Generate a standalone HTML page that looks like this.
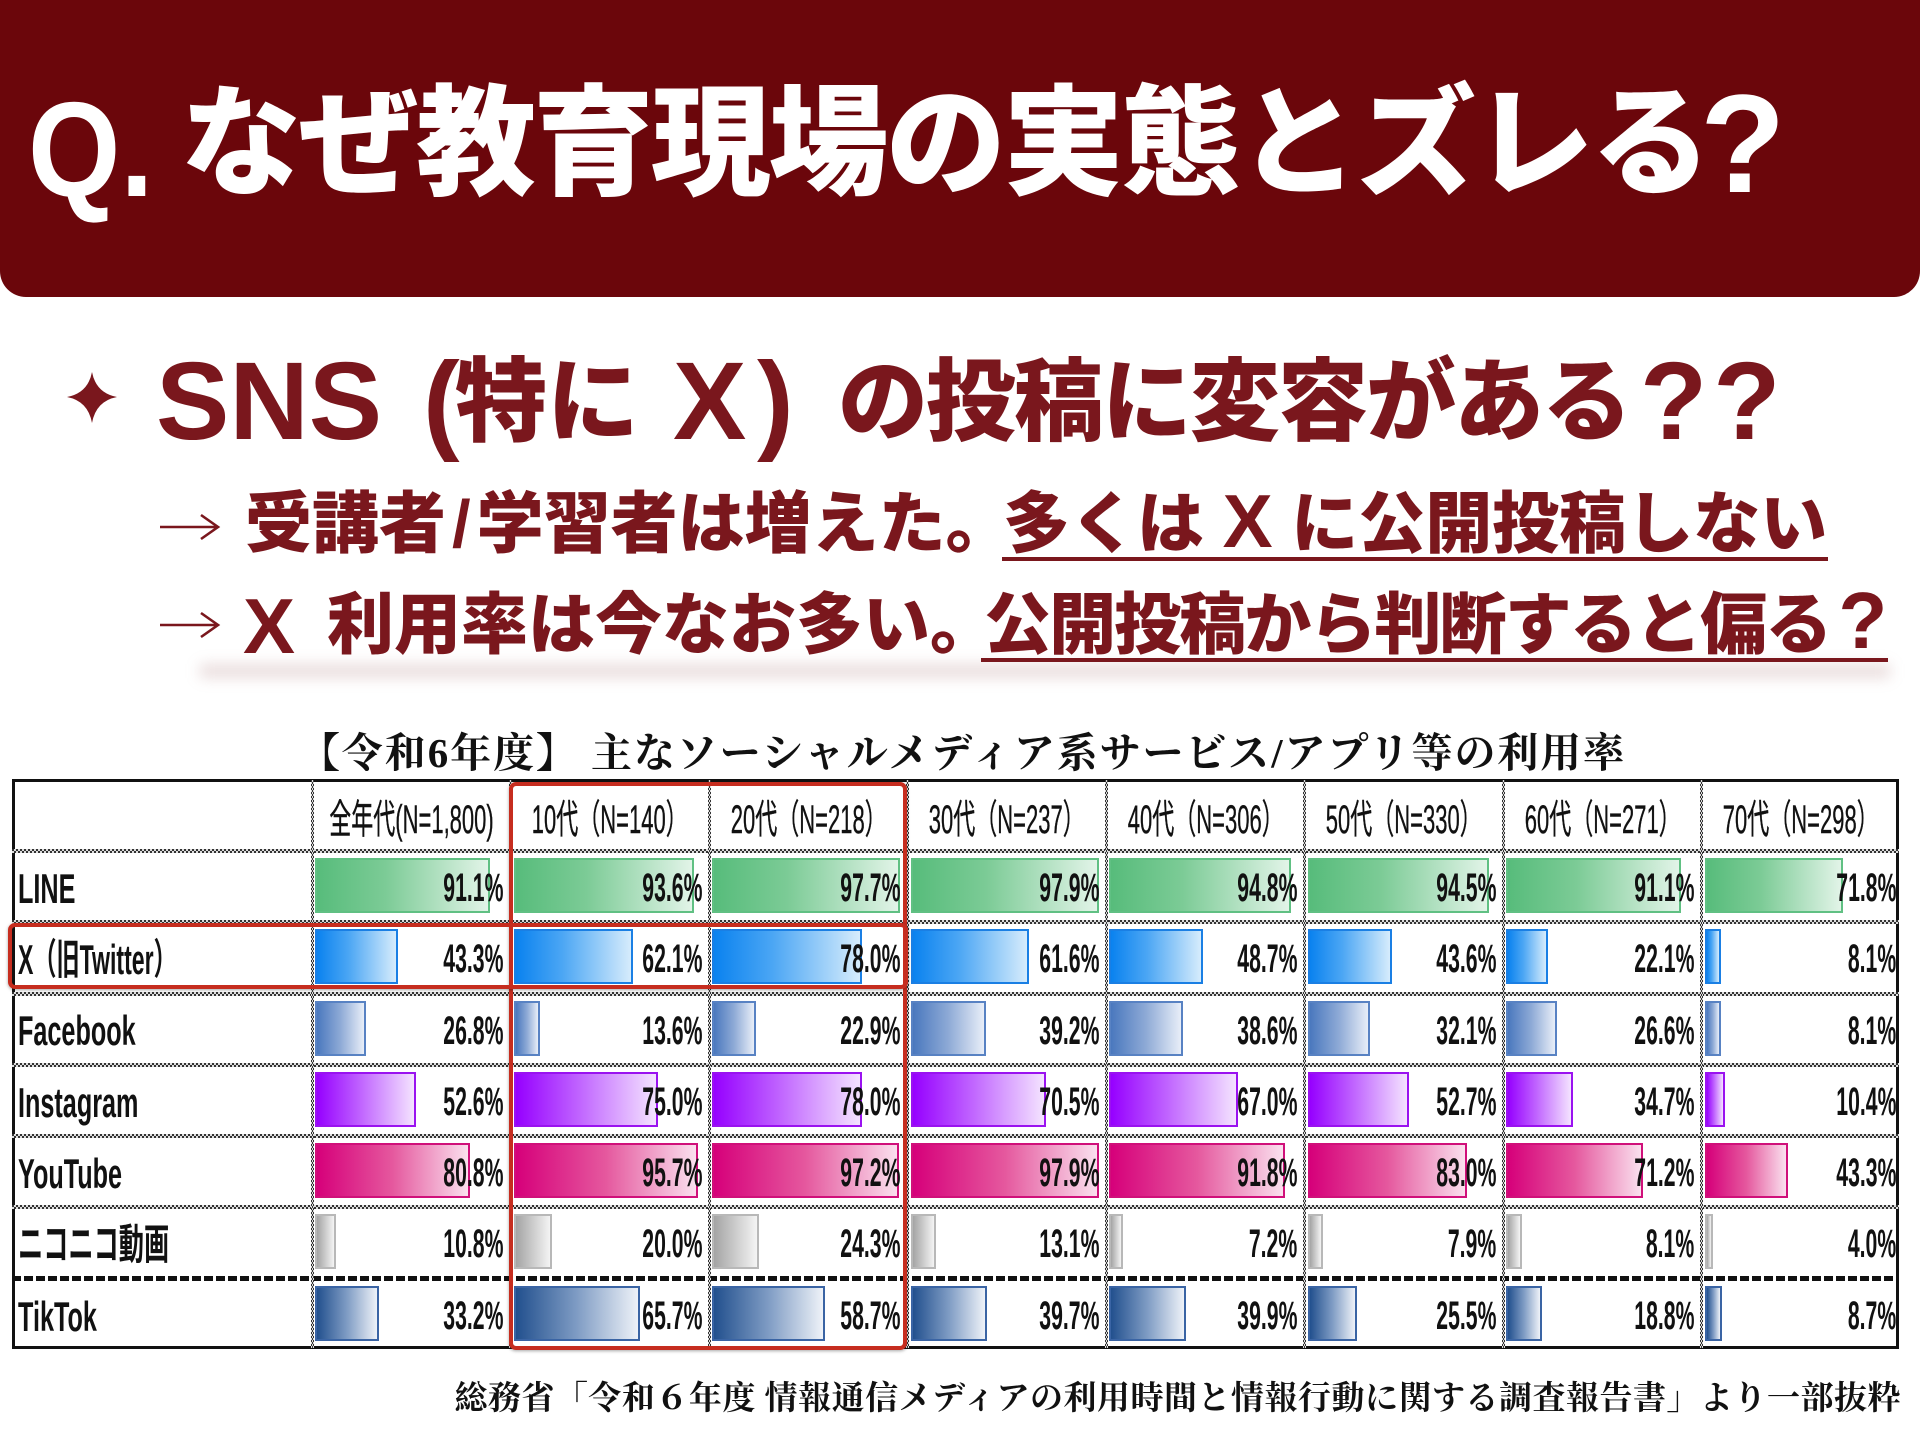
<!DOCTYPE html>
<html><head><meta charset="utf-8">
<style>
*{margin:0;padding:0;box-sizing:border-box}
html,body{width:1920px;height:1440px;background:#fff;overflow:hidden;position:relative}
.a{position:absolute;white-space:nowrap;line-height:1}
.sans{font-family:"Liberation Sans","Noto Sans CJK JP",sans-serif}
.serif{font-family:"Liberation Serif","Noto Serif CJK SC",serif}
.dr{color:#7a171d;font-weight:900}
#banner{position:absolute;left:0;top:0;width:1920px;height:297px;background:#6b060b;border-radius:0 0 26px 26px}
.wt{color:#fff;font-weight:900}
.ul{position:absolute;height:4px;background:#7a171d}
#tbl{position:absolute;left:12px;top:779px;width:1887px;height:570px;border:3px solid #111}
#grid{position:absolute;left:312px;top:851px;width:1588px;height:499px;display:grid;grid-template-columns:repeat(8,198.5px);grid-template-rows:repeat(7,71.3px)}
.c{position:relative}
.c i{position:absolute;left:3px;top:7px;height:55px;border:2px solid}
.c span{position:absolute;right:7px;top:17px;font:700 40px/1 "Liberation Sans",sans-serif;color:#111;transform:scaleX(.53);transform-origin:100% 50%;white-space:nowrap}
.c.l span{right:4px}
.g i{background:linear-gradient(90deg,#57bc7b,#7ccb96 40%,#e2f4e8);border-color:#60c083}
.x i{background:linear-gradient(90deg,#0a82ef,#4ba6f4 40%,#d6ecfc);border-color:#1a7fe4}
.f i{background:linear-gradient(90deg,#4a78be,#8eaad6 50%,#e8eef8);border-color:#5882c3}
.n i{background:linear-gradient(90deg,#9600ff,#c064ff 45%,#f4e3ff);border-color:#9a12f0}
.y i{background:linear-gradient(90deg,#d6007a,#e5589e 50%,#fae0ee);border-color:#d0107a}
.k i{background:linear-gradient(90deg,#a4a4a4,#f4f4f4);border-color:#b8b8b8}
.t i{background:linear-gradient(90deg,#22508e,#7f9cc4 50%,#eef2f8);border-color:#3a64a4}
.hs{position:absolute;left:12px;width:1887px;height:4px;background:repeating-linear-gradient(90deg,#333 0 2px,#ddd 2px 4px) top/100% 2px no-repeat,repeating-linear-gradient(90deg,#ddd 0 2px,#333 2px 4px) bottom/100% 2px no-repeat}
.hd{position:absolute;left:12px;width:1887px;height:5px;background:repeating-linear-gradient(90deg,#111 0 9px,#fff 9px 12px)}
.vs{position:absolute;top:780px;width:3px;height:568px;background:repeating-linear-gradient(180deg,#333 0 2px,#ddd 2px 4px) left/1px 100% no-repeat,repeating-linear-gradient(180deg,#ddd 0 2px,#333 2px 4px) center/1px 100% no-repeat,repeating-linear-gradient(180deg,#333 0 2px,#ddd 2px 4px) right/1px 100% no-repeat}
.hl{position:absolute;top:800px;width:398.5px;margin-left:-100px;text-align:center}
.hl b{display:inline-block;font:400 40px/1 "Liberation Sans","Noto Sans CJK JP",sans-serif;color:#111;transform:scaleX(.55);transform-origin:50% 50%;-webkit-text-stroke:.4px #111;white-space:nowrap}
.rl{position:absolute;left:18px;font:700 42px/1 "Liberation Sans","Noto Sans CJK JP",sans-serif;color:#111;transform:scaleX(.6);transform-origin:0 50%;white-space:nowrap}
.red{position:absolute;border:4px solid #c62d1f;border-radius:7px;box-shadow:0 1px 3px rgba(0,0,0,.35)}
</style></head><body>

<div id="banner"></div>
<div class="a sans wt" style="left:28px;top:82px;font-size:135px;font-family:'Liberation Sans',sans-serif;transform:scaleX(.88);transform-origin:0 50%">Q.</div>
<div class="a sans wt" style="left:181px;top:84px;font-size:120px;letter-spacing:-2.5px">なぜ教育現場の実態とズレる</div>
<div class="a sans wt" style="left:1700px;top:74px;font-size:140px;font-family:'Liberation Sans',sans-serif">?</div>

<svg class="a" style="left:0;top:0" width="1920" height="700" viewBox="0 0 1920 700">
<path d="M92 372 Q96 393 117 397 Q96 401 92 423 Q88 401 67 397 Q88 393 92 372 Z" fill="#7a171d"/>
<path d="M160 527 H217 M201 515 L218 527 L201 539" stroke="#7a171d" stroke-width="2.6" fill="none"/>
<path d="M160 625 H217 M201 613 L218 625 L201 637" stroke="#7a171d" stroke-width="2.6" fill="none"/>
</svg>

<div class="a dr" style="left:156px;top:347px;font-size:110px;font-family:'Liberation Sans',sans-serif;font-weight:700">SNS</div>
<div class="a dr" style="left:423px;top:347px;font-size:110px;font-family:'Liberation Sans',sans-serif;font-weight:700">(</div>
<div class="a sans dr" style="left:455px;top:357px;font-size:92px">特に</div>
<div class="a dr" style="left:673px;top:347px;font-size:110px;font-family:'Liberation Sans',sans-serif;font-weight:700">X</div>
<div class="a dr" style="left:757px;top:347px;font-size:110px;font-family:'Liberation Sans',sans-serif;font-weight:700">)</div>
<div class="a sans dr" style="left:838px;top:358px;font-size:90px;letter-spacing:-2px">の投稿に変容がある</div>
<div class="a dr" style="left:1640px;top:347px;font-size:110px;font-family:'Liberation Sans',sans-serif;font-weight:700;letter-spacing:6px">??</div>

<div class="a sans dr" style="left:245px;top:491px;font-size:67px">受講者<span style="font-family:'Liberation Sans',sans-serif;font-weight:700;margin:0 6px">/</span>学習者は増えた。</div>
<div class="a sans dr" style="left:1003px;top:491px;font-size:67px">多くは <span style="font-family:'Liberation Sans',sans-serif;font-weight:700;font-size:75px;line-height:0">X</span> に公開投稿しない</div>
<div class="ul" style="left:1002px;top:557px;width:826px"></div>

<div class="a" style="left:200px;top:664px;width:1690px;height:14px;background:rgba(160,100,100,.22);filter:blur(7px)"></div>
<div class="a dr" style="left:243px;top:587px;font-size:78px;font-family:'Liberation Sans',sans-serif;font-weight:700">X</div>
<div class="a sans dr" style="left:327px;top:592px;font-size:67px">利用率は今なお多い。</div>
<div class="a sans dr" style="left:984px;top:592px;font-size:67px;letter-spacing:-1.9px">公開投稿から判断すると偏る<span style="font-family:'Liberation Sans',sans-serif;font-weight:700;font-size:80px;line-height:0;margin-left:8px;letter-spacing:0">?</span></div>
<div class="ul" style="left:981px;top:658px;width:907px"></div>

<div class="a serif" style="left:299px;top:733px;font-size:41px;font-weight:700;color:#111;letter-spacing:1.9px">【令和6年度】 主なソーシャルメディア系サービス/アプリ等の利用率</div>

<div id="tbl"></div>

<div class="hl" style="left:312px"><b>全年代(N=1,800)</b></div>
<div class="hl" style="left:510.5px"><b>10代（N=140）</b></div>
<div class="hl" style="left:709px"><b>20代（N=218）</b></div>
<div class="hl" style="left:907.5px"><b>30代（N=237）</b></div>
<div class="hl" style="left:1106px"><b>40代（N=306）</b></div>
<div class="hl" style="left:1304.5px"><b>50代（N=330）</b></div>
<div class="hl" style="left:1503px"><b>60代（N=271）</b></div>
<div class="hl" style="left:1701.5px"><b>70代（N=298）</b></div>

<div class="rl" style="top:868px">LINE</div>
<div class="rl" style="top:939px;transform:scaleX(.55)">X（旧Twitter）</div>
<div class="rl" style="top:1010px">Facebook</div>
<div class="rl" style="top:1082px">Instagram</div>
<div class="rl" style="top:1153px">YouTube</div>
<div class="rl" style="top:1224px">ニコニコ動画</div>
<div class="rl" style="top:1296px">TikTok</div>

<div id="grid">
<div class="c g"><i style="width:175px"></i><span>91.1%</span></div>
<div class="c g"><i style="width:180px"></i><span>93.6%</span></div>
<div class="c g"><i style="width:188px"></i><span>97.7%</span></div>
<div class="c g"><i style="width:188px"></i><span>97.9%</span></div>
<div class="c g"><i style="width:182px"></i><span>94.8%</span></div>
<div class="c g"><i style="width:181px"></i><span>94.5%</span></div>
<div class="c g"><i style="width:175px"></i><span>91.1%</span></div>
<div class="c g l"><i style="width:138px"></i><span>71.8%</span></div>

<div class="c x"><i style="width:83px"></i><span>43.3%</span></div>
<div class="c x"><i style="width:119px"></i><span>62.1%</span></div>
<div class="c x"><i style="width:150px"></i><span>78.0%</span></div>
<div class="c x"><i style="width:118px"></i><span>61.6%</span></div>
<div class="c x"><i style="width:94px"></i><span>48.7%</span></div>
<div class="c x"><i style="width:84px"></i><span>43.6%</span></div>
<div class="c x"><i style="width:42px"></i><span>22.1%</span></div>
<div class="c x l"><i style="width:16px"></i><span>8.1%</span></div>

<div class="c f"><i style="width:51px"></i><span>26.8%</span></div>
<div class="c f"><i style="width:26px"></i><span>13.6%</span></div>
<div class="c f"><i style="width:44px"></i><span>22.9%</span></div>
<div class="c f"><i style="width:75px"></i><span>39.2%</span></div>
<div class="c f"><i style="width:74px"></i><span>38.6%</span></div>
<div class="c f"><i style="width:62px"></i><span>32.1%</span></div>
<div class="c f"><i style="width:51px"></i><span>26.6%</span></div>
<div class="c f l"><i style="width:16px"></i><span>8.1%</span></div>

<div class="c n"><i style="width:101px"></i><span>52.6%</span></div>
<div class="c n"><i style="width:144px"></i><span>75.0%</span></div>
<div class="c n"><i style="width:150px"></i><span>78.0%</span></div>
<div class="c n"><i style="width:135px"></i><span>70.5%</span></div>
<div class="c n"><i style="width:129px"></i><span>67.0%</span></div>
<div class="c n"><i style="width:101px"></i><span>52.7%</span></div>
<div class="c n"><i style="width:67px"></i><span>34.7%</span></div>
<div class="c n l"><i style="width:20px"></i><span>10.4%</span></div>

<div class="c y"><i style="width:155px"></i><span>80.8%</span></div>
<div class="c y"><i style="width:184px"></i><span>95.7%</span></div>
<div class="c y"><i style="width:187px"></i><span>97.2%</span></div>
<div class="c y"><i style="width:188px"></i><span>97.9%</span></div>
<div class="c y"><i style="width:176px"></i><span>91.8%</span></div>
<div class="c y"><i style="width:159px"></i><span>83.0%</span></div>
<div class="c y"><i style="width:137px"></i><span>71.2%</span></div>
<div class="c y l"><i style="width:83px"></i><span>43.3%</span></div>

<div class="c k"><i style="width:21px"></i><span>10.8%</span></div>
<div class="c k"><i style="width:38px"></i><span>20.0%</span></div>
<div class="c k"><i style="width:47px"></i><span>24.3%</span></div>
<div class="c k"><i style="width:25px"></i><span>13.1%</span></div>
<div class="c k"><i style="width:14px"></i><span>7.2%</span></div>
<div class="c k"><i style="width:15px"></i><span>7.9%</span></div>
<div class="c k"><i style="width:16px"></i><span>8.1%</span></div>
<div class="c k l"><i style="width:8px"></i><span>4.0%</span></div>

<div class="c t"><i style="width:64px"></i><span>33.2%</span></div>
<div class="c t"><i style="width:126px"></i><span>65.7%</span></div>
<div class="c t"><i style="width:113px"></i><span>58.7%</span></div>
<div class="c t"><i style="width:76px"></i><span>39.7%</span></div>
<div class="c t"><i style="width:77px"></i><span>39.9%</span></div>
<div class="c t"><i style="width:49px"></i><span>25.5%</span></div>
<div class="c t"><i style="width:36px"></i><span>18.8%</span></div>
<div class="c t l"><i style="width:17px"></i><span>8.7%</span></div>
</div>

<div class="hs" style="top:849px"></div>
<div class="hs" style="top:920px"></div>
<div class="hs" style="top:992px"></div>
<div class="hs" style="top:1063px"></div>
<div class="hs" style="top:1134px"></div>
<div class="hs" style="top:1205px"></div>
<div class="hd" style="top:1276px"></div>
<div class="vs" style="left:310.5px"></div>
<div class="vs" style="left:509px"></div>
<div class="vs" style="left:707.5px"></div>
<div class="vs" style="left:906px"></div>
<div class="vs" style="left:1104.5px"></div>
<div class="vs" style="left:1303px"></div>
<div class="vs" style="left:1501.5px"></div>
<div class="vs" style="left:1700px"></div>

<div class="red" style="left:509px;top:782px;width:398px;height:568px"></div>
<div class="red" style="left:8px;top:923px;width:900px;height:66px"></div>

<div class="a serif" style="right:19px;top:1383px;font-size:33px;font-weight:700;color:#111;letter-spacing:.5px">総務省「令和６年度 情報通信メディアの利用時間と情報行動に関する調査報告書」より一部抜粋</div>

</body></html>
